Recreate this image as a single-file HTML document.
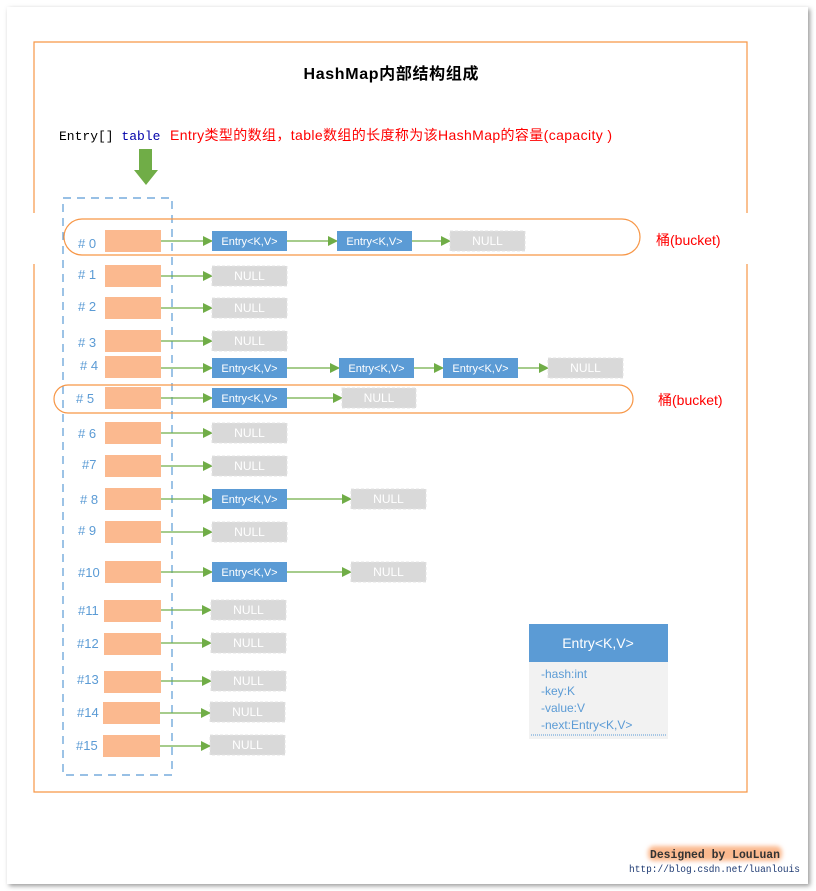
<!DOCTYPE html>
<html><head><meta charset="utf-8"><style>
html,body{margin:0;padding:0;background:#fff;}
svg{display:block;}
text{font-family:"Liberation Sans","Noto Sans CJK SC",sans-serif;}
.m{font-family:"Liberation Mono","DejaVu Sans Mono",monospace;}
</style></head><body>
<svg width="816" height="891" viewBox="0 0 816 891" xmlns="http://www.w3.org/2000/svg">
<defs>
<filter id="sh" x="-5%" y="-5%" width="110%" height="110%"><feGaussianBlur stdDeviation="2.5"/></filter>
<filter id="gl" x="-10%" y="-40%" width="120%" height="180%"><feGaussianBlur stdDeviation="2"/></filter>
<marker id="ar" markerWidth="10" markerHeight="10" refX="9" refY="5" orient="auto" markerUnits="userSpaceOnUse"><path d="M0,0 L10,5 L0,10 z" fill="#70ad47"/></marker>
</defs>
<rect x="9" y="9" width="801" height="877" fill="#999" filter="url(#sh)"/>
<rect x="7" y="7" width="801" height="877" fill="#fff"/>
<g stroke="#f79646" stroke-width="1.2" fill="none">
<path d="M34,213 V42 H747 V213"/>
<path d="M34,264 V792 H747 V264"/>
</g>
<text x="391" y="79" font-size="16" font-weight="bold" text-anchor="middle" textLength="175">HashMap内部结构组成</text>
<text x="59" y="140" class="m" font-size="13" fill="#000">Entry[] <tspan fill="#00a">table</tspan></text>
<text x="170" y="140" font-size="14" fill="#f00" textLength="442">Entry类型的数组，table数组的长度称为该HashMap的容量(capacity )</text>
<path d="M139,149 H152 V170 H158 L146,185 L134,170 H139 Z" fill="#70ad47"/>
<rect x="63" y="198" width="109" height="577" fill="none" stroke="#5b9bd5" stroke-width="1.2" stroke-dasharray="8,6"/>
<rect x="64" y="219" width="576" height="36" rx="18" fill="none" stroke="#f79646" stroke-width="1.2"/>
<rect x="54" y="385" width="579" height="28" rx="14" fill="none" stroke="#f79646" stroke-width="1.2"/>
<text x="656" y="245" font-size="14" fill="#f00">桶(bucket)</text>
<text x="658" y="405" font-size="14" fill="#f00">桶(bucket)</text>

<g font-size="13" fill="#5b9bd5">
<text x="78" y="248"># 0</text>
<text x="78" y="279"># 1</text>
<text x="78" y="311"># 2</text>
<text x="78" y="347"># 3</text>
<text x="80" y="370"># 4</text>
<text x="76" y="403"># 5</text>
<text x="78" y="438"># 6</text>
<text x="82" y="469">#7</text>
<text x="80" y="504"># 8</text>
<text x="78" y="535"># 9</text>
<text x="78" y="577">#10</text>
<text x="78" y="615">#11</text>
<text x="77" y="648">#12</text>
<text x="77" y="684">#13</text>
<text x="77" y="717">#14</text>
<text x="76" y="750">#15</text>
</g>
<g fill="#fbb98f">
<rect x="105" y="230" width="56" height="22"/>
<rect x="105" y="265" width="56" height="22"/>
<rect x="105" y="297" width="56" height="22"/>
<rect x="105" y="330" width="56" height="22"/>
<rect x="105" y="356" width="56" height="22"/>
<rect x="105" y="387" width="56" height="22"/>
<rect x="105" y="422" width="56" height="22"/>
<rect x="105" y="455" width="56" height="22"/>
<rect x="105" y="488" width="56" height="22"/>
<rect x="105" y="521" width="56" height="22"/>
<rect x="105" y="561" width="56" height="22"/>
<rect x="104" y="600" width="57" height="22"/>
<rect x="104" y="633" width="57" height="22"/>
<rect x="104" y="671" width="57" height="22"/>
<rect x="103" y="702" width="57" height="22"/>
<rect x="103" y="735" width="57" height="22"/>
</g>
<g stroke="#70ad47" stroke-width="1.3" marker-end="url(#ar)">
<line x1="161" y1="241" x2="212" y2="241"/><line x1="287" y1="241" x2="337" y2="241"/><line x1="412" y1="241" x2="450" y2="241"/>
<line x1="161" y1="276" x2="212" y2="276"/>
<line x1="161" y1="308" x2="212" y2="308"/>
<line x1="161" y1="341" x2="212" y2="341"/>
<line x1="161" y1="368" x2="212" y2="368"/><line x1="287" y1="368" x2="339" y2="368"/><line x1="414" y1="368" x2="443" y2="368"/><line x1="518" y1="368" x2="548" y2="368"/>
<line x1="161" y1="398" x2="212" y2="398"/><line x1="287" y1="398" x2="342" y2="398"/>
<line x1="161" y1="433" x2="212" y2="433"/>
<line x1="161" y1="466" x2="212" y2="466"/>
<line x1="161" y1="499" x2="212" y2="499"/><line x1="287" y1="499" x2="351" y2="499"/>
<line x1="161" y1="532" x2="212" y2="532"/>
<line x1="161" y1="572" x2="212" y2="572"/><line x1="287" y1="572" x2="351" y2="572"/>
<line x1="161" y1="610" x2="211" y2="610"/>
<line x1="161" y1="643" x2="211" y2="643"/>
<line x1="161" y1="681" x2="211" y2="681"/>
<line x1="160" y1="713" x2="210" y2="713"/>
<line x1="160" y1="746" x2="210" y2="746"/>
</g>
<g fill="#5b9bd5">
<rect x="212" y="231" width="75" height="20"/><rect x="337" y="231" width="75" height="20"/>
<rect x="212" y="358" width="75" height="20"/><rect x="339" y="358" width="75" height="20"/><rect x="443" y="358" width="75" height="20"/>
<rect x="212" y="388" width="75" height="20"/>
<rect x="212" y="489" width="75" height="20"/>
<rect x="212" y="562" width="75" height="20"/>
</g>
<g font-size="11" fill="#fff" text-anchor="middle">
<text x="249.5" y="245">Entry&lt;K,V&gt;</text><text x="374.5" y="245">Entry&lt;K,V&gt;</text>
<text x="249.5" y="372">Entry&lt;K,V&gt;</text><text x="376.5" y="372">Entry&lt;K,V&gt;</text><text x="480.5" y="372">Entry&lt;K,V&gt;</text>
<text x="249.5" y="402">Entry&lt;K,V&gt;</text>
<text x="249.5" y="503">Entry&lt;K,V&gt;</text>
<text x="249.5" y="576">Entry&lt;K,V&gt;</text>
</g>
<g fill="#d9d9d9" stroke="#e4e4e4" stroke-dasharray="3,2">
<rect x="450" y="231" width="75" height="20"/>
<rect x="212" y="266" width="75" height="20"/>
<rect x="212" y="298" width="75" height="20"/>
<rect x="212" y="331" width="75" height="20"/>
<rect x="548" y="358" width="75" height="20"/>
<rect x="342" y="388" width="74" height="20"/>
<rect x="212" y="423" width="75" height="20"/>
<rect x="212" y="456" width="75" height="20"/>
<rect x="351" y="489" width="75" height="20"/>
<rect x="212" y="522" width="75" height="20"/>
<rect x="351" y="562" width="75" height="20"/>
<rect x="211" y="600" width="75" height="20"/>
<rect x="211" y="633" width="75" height="20"/>
<rect x="211" y="671" width="75" height="20"/>
<rect x="210" y="702" width="75" height="20"/>
<rect x="210" y="735" width="75" height="20"/>
</g>
<g font-size="12" fill="#fff" text-anchor="middle">
<text x="487.5" y="245">NULL</text>
<text x="249.5" y="280">NULL</text>
<text x="249.5" y="312">NULL</text>
<text x="249.5" y="345">NULL</text>
<text x="585.5" y="372">NULL</text>
<text x="379" y="402">NULL</text>
<text x="249.5" y="437">NULL</text>
<text x="249.5" y="470">NULL</text>
<text x="388.5" y="503">NULL</text>
<text x="249.5" y="536">NULL</text>
<text x="388.5" y="576">NULL</text>
<text x="248.5" y="614">NULL</text>
<text x="248.5" y="647">NULL</text>
<text x="248.5" y="685">NULL</text>
<text x="247.5" y="716">NULL</text>
<text x="247.5" y="749">NULL</text>
</g>
<rect x="529" y="624" width="139" height="38" fill="#5b9bd5"/>
<rect x="529" y="662" width="139" height="77" fill="#f2f2f2"/>
<line x1="531" y1="735" x2="666" y2="735" stroke="#5b9bd5" stroke-dasharray="1,1"/>
<text x="598" y="648" font-size="14" fill="#fff" text-anchor="middle">Entry&lt;K,V&gt;</text>
<g font-size="12" fill="#5b9bd5">
<text x="541" y="678">-hash:int</text>
<text x="541" y="695">-key:K</text>
<text x="541" y="712">-value:V</text>
<text x="541" y="729">-next:Entry&lt;K,V&gt;</text>
</g>
<rect x="648" y="846" width="134" height="15" rx="6" fill="#fbb98f" filter="url(#gl)"/>
<text x="650" y="858" class="m" font-size="12" font-weight="bold" fill="#333" textLength="130" lengthAdjust="spacingAndGlyphs">Designed by LouLuan</text>
<text x="629" y="872" class="m" font-size="10.5" fill="#1f3b73" textLength="171" lengthAdjust="spacingAndGlyphs">http://blog.csdn.net/luanlouis</text>
</svg>
</body></html>
